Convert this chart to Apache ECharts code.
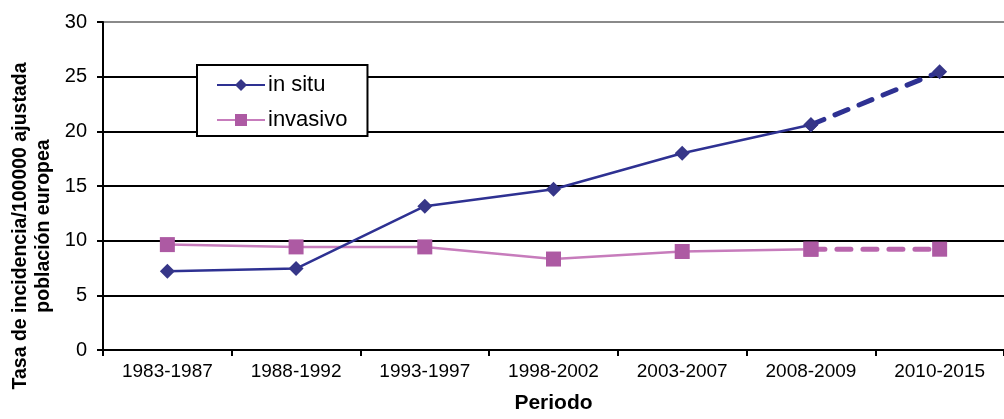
<!DOCTYPE html>
<html>
<head>
<meta charset="utf-8">
<title>Tasa de incidencia</title>
<script src="https://cdn.jsdelivr.net/npm/echarts@6/dist/echarts.min.js"></script>
<style>
  html, body { margin: 0; padding: 0; background: #fff; }
  #chart { width: 1004px; height: 419px; }
</style>
</head>
<body>
<div id="chart"></div>
<script>
// Periods on the category axis
const periodos = ['1983-1987', '1988-1992', '1993-1997', '1998-2002', '2003-2007', '2008-2009', '2010-2015'];
// Incidence rates per 100000, adjusted to the European population
const inSitu   = [7.2, 7.45, 13.15, 14.7, 18.0, 20.6, 25.45];
const invasivo = [9.64, 9.43, 9.43, 8.32, 9.01, 9.22, 9.22];
// Value axis ticks
const yMin = 0, yMax = 30, yStep = 5;

// Observed periods drawn solid, the last period drawn as a dashed projection
const lastIdx = periodos.length - 1;
const solidPart = arr => arr.map((v, i) => (i < lastIdx ? v : null));
const dashedPart = arr => arr.map((v, i) => (i >= lastIdx - 1 ? v : null));

const FONT = '"Liberation Sans", Arial, sans-serif';
const BLUE = '#2e3192', BLUE_MK = '#363688';
const PINK = '#c77cbc', PINK_MK = '#ad5aa3', PINK_DASH = '#b966ad';

const chart = echarts.init(document.getElementById('chart'), null, { renderer: 'canvas' });

chart.setOption({
  animation: false,
  backgroundColor: '#fff',
  textStyle: { fontFamily: FONT },
  grid: { left: 103, top: 22, width: 907, height: 333, containLabel: false },
  legend: {
    left: 197, top: 65,
    orient: 'vertical',
    data: ['in situ', 'invasivo'],
    backgroundColor: '#fff',
    borderColor: '#000',
    borderWidth: 2,
    padding: [9, 20, 5, 19],
    itemWidth: 48,
    itemHeight: 15,
    itemGap: 13,
    textStyle: { fontFamily: FONT, fontSize: 22, color: '#000', lineHeight: 22, padding: [0, 0, 0, -2] }
  },
  xAxis: {
    type: 'category',
    data: periodos,
    boundaryGap: true,
    name: 'Periodo',
    nameLocation: 'middle',
    nameGap: 43,
    nameTextStyle: { fontFamily: FONT, fontSize: 21, fontWeight: 'bold', color: '#000' },
    axisLine: { lineStyle: { color: '#000', width: 2 } },
    axisTick: { show: true, inside: false, length: 6, lineStyle: { color: '#000', width: 2 } },
    axisLabel: { fontFamily: FONT, fontSize: 19, color: '#000', margin: 12 },
    splitLine: { show: false }
  },
  yAxis: {
    type: 'value',
    min: yMin, max: yMax, interval: yStep,
    axisLine: { show: true, lineStyle: { color: '#000', width: 2 } },
    axisTick: { show: true, inside: false, length: 6, lineStyle: { color: '#000', width: 2 } },
    axisLabel: { fontFamily: FONT, fontSize: 20, color: '#000', margin: 16 },
    splitLine: {
      show: true,
      lineStyle: { color: ['#000', '#000', '#000', '#000', '#000', '#000', '#8a8a8a'], width: 2 }
    }
  },
  graphic: [{
    type: 'text',
    x: 32, y: 226,
    rotation: Math.PI / 2,
    style: {
      text: 'Tasa de incidencia/100000 ajustada\npoblación europea',
      fontFamily: FONT,
      fontSize: 19.5,
      fontWeight: 'bold',
      lineHeight: 23,
      fill: '#000',
      align: 'center',
      verticalAlign: 'middle'
    }
  }],
  series: [
    {
      name: 'invasivo',
      type: 'line',
      data: solidPart(invasivo),
      symbol: 'rect', symbolSize: 15, showAllSymbol: true,
      lineStyle: { color: PINK, width: 2.5 },
      itemStyle: { color: PINK_MK },
      z: 3
    },
    {
      name: 'invasivo-proy',
      type: 'line',
      data: dashedPart(invasivo),
      symbol: 'rect', symbolSize: 15,
      lineStyle: { color: PINK_DASH, width: 5, type: [14, 12], cap: 'round' },
      itemStyle: { color: PINK_MK },
      z: 2
    },
    {
      name: 'in situ',
      type: 'line',
      data: solidPart(inSitu),
      symbol: 'diamond', symbolSize: 15, showAllSymbol: true,
      lineStyle: { color: BLUE, width: 2.5 },
      itemStyle: { color: BLUE_MK },
      z: 5
    },
    {
      name: 'in situ-proy',
      type: 'line',
      data: dashedPart(inSitu),
      symbol: 'diamond', symbolSize: 15,
      lineStyle: { color: BLUE, width: 5, type: [14, 12], cap: 'round' },
      itemStyle: { color: BLUE_MK },
      z: 4
    }
  ]
});
</script>
</body>
</html>
